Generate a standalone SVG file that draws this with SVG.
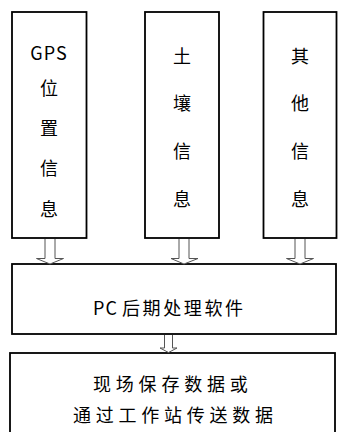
<svg xmlns="http://www.w3.org/2000/svg" width="338" height="432" viewBox="0 0 338 432">
<style>
.box{fill:#fff;stroke:#000;stroke-width:1.8}
.t{font-family:"Noto Sans CJK SC","Noto Sans",sans-serif;font-size:18px;fill:#000;text-anchor:middle;dominant-baseline:central}
.s{text-anchor:start}
.arr{fill:#fff;stroke:#555;stroke-width:1}
</style>
<rect width="338" height="432" fill="#fff"/>
<g id="gps">
<rect class="box" x="12" y="12" width="74.5" height="226"/>
<text class="t" x="49" y="52" font-size="17" letter-spacing="1">GPS</text>
<text class="t" x="49" y="87">位</text>
<text class="t" x="49" y="127">置</text>
<text class="t" x="49" y="167">信</text>
<text class="t" x="49" y="208">息</text>
</g>
<g id="soil">
<rect class="box" x="145" y="12" width="74" height="226"/>
<text class="t" x="182" y="55">土</text>
<text class="t" x="182" y="102">壤</text>
<text class="t" x="182" y="150">信</text>
<text class="t" x="182" y="198">息</text>
</g>
<g id="other">
<rect class="box" x="263.5" y="12" width="73" height="226"/>
<text class="t" x="300" y="55">其</text>
<text class="t" x="300" y="102">他</text>
<text class="t" x="300" y="150">信</text>
<text class="t" x="300" y="198">息</text>
</g>
<g id="pc">
<rect class="box" x="12" y="264" width="324" height="70"/>
<text class="t s" x="93" y="307" font-size="17" letter-spacing="1">PC<tspan x="122" font-size="18" letter-spacing="2.6">后期处理软件</tspan></text>
</g>
<g id="out">
<rect class="box" x="10" y="353" width="325" height="90"/>
<text class="t s" x="93" y="383" letter-spacing="4.8">现场保存数据或</text>
<text class="t s" x="73" y="414" letter-spacing="4.75">通过工作站传送数据</text>
</g>
<g id="connectors">
<path class="arr" d="M45,239 V258.5 H36.5 L50,264 L63.5,258.5 H55 V239"/>
<path class="arr" d="M179,239 V258.5 H171 L184,264 L198,258.5 H189 V239"/>
<path class="arr" d="M295,239 V258.5 H286.5 L300,264 L313.5,258.5 H305 V239"/>
<path class="arr" d="M164.5,335 V348 H160 L168.5,352.5 L177,348 H172.5 V335"/>
</g>
</svg>
